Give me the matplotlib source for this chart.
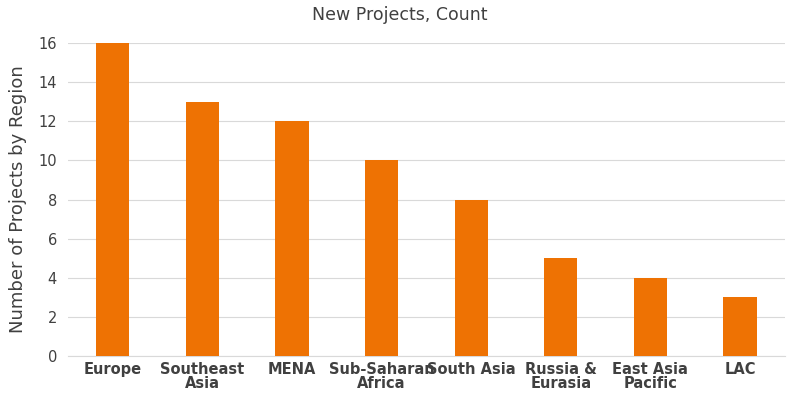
import matplotlib
matplotlib.use("Agg")
import matplotlib.pyplot as plt

categories = ["Europe", "Southeast\nAsia", "MENA", "Sub-Saharan\nAfrica", "South Asia",
              "Russia &\nEurasia", "East Asia\nPacific", "LAC"]
values = [16, 13, 12, 10, 8, 5, 4, 3]
yticks = [0, 2, 4, 6, 8, 10, 12, 14, 16]

fig = plt.figure(figsize=(8, 4), dpi=100)
ax = fig.add_axes([0.085, 0.11, 0.896, 0.7825])
x = range(len(categories))
ax.bar(x, values, width=0.37, color="#EE7203", zorder=3)
ax.set_xlim(-0.5, len(categories) - 0.5)
ax.set_ylim(0, 16)
ax.set_yticks(yticks)
ax.set_xticks(list(x))
ax.set_xticklabels(categories, fontweight="bold", fontsize=10.5, color="#404040", linespacing=0.95)
ax.tick_params(axis="y", labelsize=10.5, colors="#404040", length=0, pad=8)
ax.tick_params(axis="x", length=0, pad=4)
ax.grid(axis="y", color="#D9D9D9", linewidth=0.8, zorder=0)
for s in ["top", "right", "left"]:
    ax.spines[s].set_visible(False)
ax.spines["bottom"].set_color("#D9D9D9")
ax.set_ylabel("Number of Projects by Region", fontsize=13, color="#404040", labelpad=8)
fig.text(0.5, 0.962, "New Projects, Count", ha="center", va="center", fontsize=12.5, color="#404040")
fig.savefig("out.png", dpi=100)
